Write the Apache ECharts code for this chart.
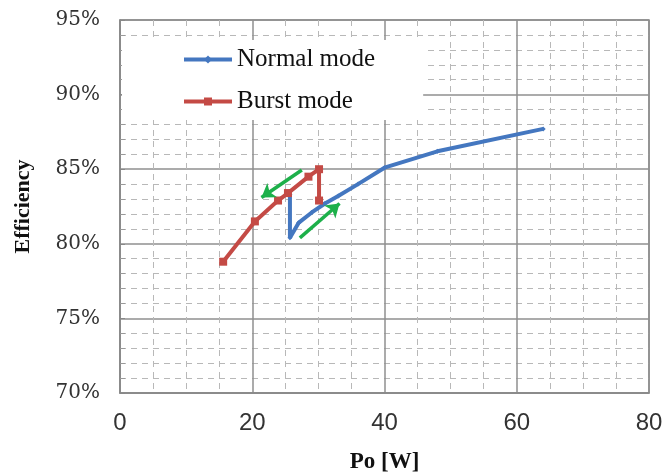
<!DOCTYPE html>
<html>
<head>
<meta charset="utf-8">
<script src="https://cdn.jsdelivr.net/npm/echarts@6/dist/echarts.min.js"></script>
<style>
html,body{margin:0;padding:0;background:#fff;}
#chart{width:663px;height:476px;}
</style>
</head>
<body>
<div id="chart"></div>
<script>
// Data (Po in W, efficiency in %)
var normalPo  = [25.7, 25.7, 27.0, 29.0, 31.0, 33.0, 36.0, 40.0, 48.0, 64.0];
var normalEff = [83.3, 80.4, 81.4, 82.1, 82.7, 83.2, 84.0, 85.1, 86.2, 87.7];
var burstPo   = [15.6, 20.4, 23.9, 25.4, 28.5, 30.1, 30.1];
var burstEff  = [78.8, 81.5, 82.9, 83.4, 84.5, 85.0, 82.9];
var seriesNames = ['Normal mode', 'Burst mode'];
// annotation arrows: [startPo, startEff, endPo, endEff]
var arrows = [
  [27.5, 84.95, 21.4, 83.1],
  [27.2, 80.4, 33.2, 82.7]
];
var xMin = 0, xMax = 80, xStep = 20;
var yMin = 70, yMax = 95, yStep = 5;

function zip(a, b) { return a.map(function (v, i) { return [v, b[i]]; }); }

var chart = echarts.init(document.getElementById('chart'), null, {renderer: 'canvas'});
var gridMajor = '#8f8f8f';
var gridMinor = '#b8b8b8';

chart.setOption({
  animation: false,
  backgroundColor: '#ffffff',
  grid: {
    left: 120, right: 14, top: 20, bottom: 83,
    outerBoundsMode: 'none', containLabel: false,
    show: true, borderColor: '#888', borderWidth: 1.5, backgroundColor: 'transparent'
  },
  legend: {
    data: seriesNames,
    orient: 'vertical',
    left: 122, top: 40,
    padding: [7, 48, 6, 60],
    backgroundColor: '#ffffff',
    itemWidth: 48, itemHeight: 10, itemGap: 17,
    lineStyle: {width: 4},
    textStyle: {fontFamily: 'Liberation Serif', fontSize: 25, color: '#111'}
  },
  xAxis: {
    type: 'value', min: xMin, max: xMax, interval: xStep,
    name: 'Po [W]', nameLocation: 'middle', nameGap: 58,
    nameTextStyle: {fontFamily: 'Liberation Serif', fontWeight: 'bold', fontSize: 23, color: '#111'},
    axisLine: {show: true, lineStyle: {color: '#888', width: 1.5}},
    axisTick: {show: false},
    minorTick: {show: false, splitNumber: 4},
    axisLabel: {margin: 18, fontFamily: 'Liberation Sans', fontSize: 24, color: '#333'},
    splitLine: {show: true, lineStyle: {color: gridMajor, width: 1.5}},
    minorSplitLine: {show: true, lineStyle: {color: gridMinor, width: 1, type: [6, 5]}}
  },
  yAxis: {
    type: 'value', min: yMin, max: yMax, interval: yStep,
    name: 'Efficiency', nameLocation: 'middle', nameGap: 86,
    nameTextStyle: {fontFamily: 'Liberation Serif', fontWeight: 'bold', fontSize: 22, color: '#111'},
    axisLine: {show: true, lineStyle: {color: '#888', width: 1.5}},
    axisTick: {show: true, inside: true, length: 5, lineStyle: {color: '#888'}},
    minorTick: {show: true, splitNumber: 5, length: 5, lineStyle: {color: '#999'}},
    axisLabel: {margin: 20, fontFamily: 'DejaVu Serif', fontSize: 20, color: '#333',
      formatter: '{value}%'},
    splitLine: {show: true, lineStyle: {color: gridMajor, width: 1.5}},
    minorSplitLine: {show: true, lineStyle: {color: gridMinor, width: 1, type: [6, 5]}}
  },
  series: [
    {
      name: seriesNames[0], type: 'line', data: zip(normalPo, normalEff),
      color: '#4477C0',
      lineStyle: {width: 4, color: '#4477C0'},
      symbol: 'diamond', symbolSize: 5, showSymbol: true,
      itemStyle: {color: '#4477C0'}, z: 3
    },
    {
      name: seriesNames[1], type: 'line', data: zip(burstPo, burstEff),
      color: '#C44A45',
      lineStyle: {width: 4, color: '#C44A45'},
      symbol: 'rect', symbolSize: 8, showSymbol: true,
      itemStyle: {color: '#C44A45'}, z: 4
    },
    {
      type: 'lines', coordinateSystem: 'cartesian2d', silent: true,
      data: arrows.map(function (a) { return {coords: [[a[0], a[1]], [a[2], a[3]]]}; }),
      lineStyle: {color: '#1DB04A', width: 3.5, opacity: 1},
      symbol: ['none', 'arrow'], symbolSize: 13, z: 5
    }
  ]
});
</script>
</body>
</html>
